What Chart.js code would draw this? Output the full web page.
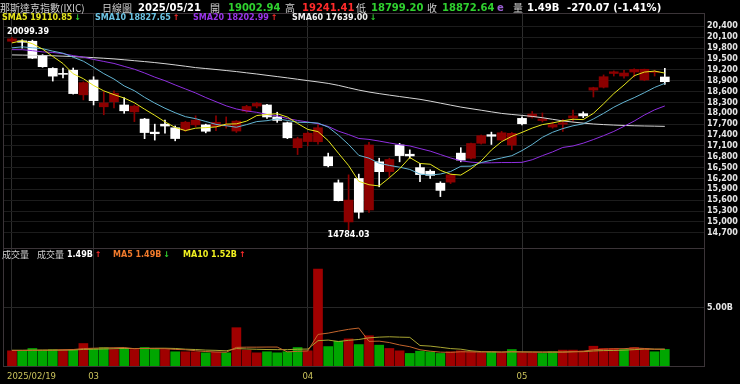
<!DOCTYPE html>
<html>
<head>
<meta charset="utf-8">
<script src="https://cdn.jsdelivr.net/npm/chart.js@4.4.1/dist/chart.umd.min.js"></script>
<style>
html, body { margin: 0; padding: 0; background: #000; }
#wrap { position: relative; width: 740px; height: 384px; overflow: hidden; background: #000; }
canvas { position: absolute; left: 0; top: 0; }
.t { position: absolute; white-space: nowrap; line-height: 12px; font-family: "DejaVu Sans", sans-serif; font-weight: bold; font-size: 10px; }
.cjk { font-family: "Noto Sans CJK TC", sans-serif; font-weight: normal; color: #cfcfcf; }
</style>
</head>
<body>
<div id="wrap"><canvas id="kchart" width="740" height="384"></canvas></div>
<script>
var days = ["2025/02/19","2025/02/20","2025/02/21","2025/02/24","2025/02/25","2025/02/26","2025/02/27","2025/02/28",
  "2025/03/03","2025/03/04","2025/03/05","2025/03/06","2025/03/07","2025/03/10","2025/03/11","2025/03/12","2025/03/13","2025/03/14",
  "2025/03/17","2025/03/18","2025/03/19","2025/03/20","2025/03/21","2025/03/24","2025/03/25","2025/03/26","2025/03/27","2025/03/28","2025/03/31",
  "2025/04/01","2025/04/02","2025/04/03","2025/04/04","2025/04/07","2025/04/08","2025/04/09","2025/04/10","2025/04/11","2025/04/14",
  "2025/04/15","2025/04/16","2025/04/17","2025/04/21","2025/04/22","2025/04/23","2025/04/24","2025/04/25","2025/04/28","2025/04/29","2025/04/30",
  "2025/05/01","2025/05/02","2025/05/05","2025/05/06","2025/05/07","2025/05/08","2025/05/09","2025/05/12","2025/05/13","2025/05/14",
  "2025/05/15","2025/05/16","2025/05/19","2025/05/20","2025/05/21"];

var open = [19990, 20000, 19990, 19590, 19240, 19100, 19190, 18510, 18920, 18180, 18320, 18230, 18040, 17840, 17480, 17700,
  17600, 17540, 17680, 17680, 17630, 17650, 17510, 18060, 18200, 18230, 17900, 17740, 17050, 17220, 17215, 16800, 16080,
  15000, 16200, 15330, 16660, 16390, 17125, 16870, 16500, 16400, 16070, 16100, 16900, 16760, 17172, 17410, 17262, 17123,
  17860, 17900, 17800, 17620, 17700, 17870, 17990, 18640, 18720, 19100, 19030, 19140, 18920, 19130, 19002.94];
var high = [20099.39, 20030, 20020, 19620, 19260, 19250, 19250, 18870, 19010, 18600, 18620, 18430, 18230, 17860, 17700, 17815,
  17650, 17780, 17930, 17700, 17930, 17900, 17800, 18220, 18300, 18250, 18030, 17760, 17340, 17480, 17700, 16900, 16160,
  16300, 16320, 17200, 16760, 16760, 17170, 16990, 16620, 16440, 16110, 16330, 17050, 17180, 17400, 17480, 17500, 17470,
  17900, 18050, 18010, 17760, 17830, 18090, 18040, 18720, 19060, 19170, 19190, 19230, 19220, 19190, 19241.41];
var low = [19950, 19800, 19510, 19270, 18890, 18980, 18530, 18370, 18230, 17960, 18150, 18000, 17770, 17300, 17260, 17450,
  17240, 17500, 17630, 17460, 17520, 17590, 17470, 18030, 18150, 17860, 17750, 17300, 16860, 17100, 17150, 16520, 15580,
  14784.03, 15100, 15260, 15970, 16230, 16660, 16760, 16110, 16200, 15700, 16060, 16660, 16740, 17150, 17140, 17250, 16990,
  17680, 17870, 17760, 17590, 17500, 17780, 17880, 18450, 18700, 19030, 18970, 19000, 18900, 19030, 18799.20];
var close = [20056.25, 19962.36, 19524.01, 19286.93, 19026.39, 19075.26, 18544.42, 18847.28, 18350.19, 18285.16, 18552.73,
  18069.26, 18196.22, 17468.32, 17436.10, 17648.45, 17303.01, 17754.09, 17808.66, 17504.12, 17750.79, 17691.63, 17784.05,
  18188.59, 18271.86, 17899.01, 17804.03, 17322.99, 17299.29, 17449.89, 17601.05, 16550.61, 15587.79, 15603.26, 15267.91,
  17124.97, 16387.31, 16724.46, 16831.48, 16823.17, 16307.16, 16286.45, 15870.90, 16300.42, 16708.05, 17166.04, 17382.94,
  17366.13, 17461.32, 17446.34, 17710.74, 17977.73, 17844.24, 17689.66, 17738.16, 17928.14, 17928.92, 18708.34, 19010.09,
  19146.81, 19112.32, 19211.10, 19215.46, 19142.71, 18872.64];
var prevClose = 20041.26;

var sma5 = [19944, 20006, 19922, 19774, 19571, 19375, 19091, 18956, 18768, 18620, 18516, 18421, 18291, 18114, 17944, 17763,
  17610, 17522, 17590, 17604, 17624, 17702, 17708, 17784, 17938, 17967, 17990, 17897, 17719, 17555, 17495, 17245, 16898,
  16559, 16122, 16027, 15994, 16221, 16467, 16778, 16614, 16594, 16424, 16317, 16294, 16466, 16686, 16985, 17217, 17364,
  17473, 17592, 17688, 17734, 17792, 17836, 17826, 17999, 18263, 18544, 18781, 19038, 19139, 19166, 19110.85];
var sma10 = [19808, 19835, 19809, 19785, 19716, 19660, 19549, 19439, 19271, 19096, 18946, 18756, 18624, 18441, 18282, 18140,
  18016, 17907, 17852, 17774, 17694, 17656, 17615, 17687, 17771, 17796, 17846, 17803, 17752, 17747, 17731, 17618, 17398,
  17139, 16839, 16761, 16620, 16560, 16513, 16450, 16321, 16294, 16323, 16392, 16536, 16540, 16640, 16705, 16767, 16829,
  16970, 17139, 17337, 17476, 17578, 17655, 17709, 17844, 17999, 18168, 18309, 18432, 18569, 18715, 18827.65];
var sma20 = [19758, 19756, 19730, 19696, 19680, 19648, 19593, 19551, 19487, 19432, 19377, 19296, 19217, 19113, 18999, 18900,
  18783, 18673, 18562, 18435, 18320, 18206, 18120, 18064, 18027, 17968, 17931, 17855, 17802, 17761, 17713, 17637, 17507,
  17413, 17305, 17279, 17233, 17182, 17133, 17099, 17026, 16956, 16861, 16766, 16688, 16651, 16630, 16633, 16640, 16640,
  16646, 16717, 16830, 16934, 17057, 17098, 17175, 17275, 17383, 17499, 17640, 17786, 17953, 18096, 18202.99];
var sma60 = [19612, 19608, 19603, 19596, 19588, 19578, 19566, 19552, 19538, 19521, 19502, 19478, 19453, 19428, 19401, 19370,
  19336, 19300, 19262, 19236, 19210, 19181, 19152, 19118, 19085, 19049, 19014, 18978, 18940, 18902, 18866, 18826, 18772,
  18706, 18641, 18588, 18543, 18502, 18463, 18425, 18386, 18336, 18281, 18226, 18172, 18128, 18085, 18040, 17997, 17968,
  17943, 17914, 17878, 17834, 17790, 17758, 17729, 17705, 17688, 17675, 17664, 17656, 17650, 17645, 17639.00];

// volume in billions
var vol = [1.37, 1.37, 1.57, 1.43, 1.48, 1.43, 1.48, 1.99, 1.57, 1.65, 1.48, 1.57, 1.48, 1.65, 1.57, 1.48, 1.29, 1.29, 1.29,
  1.20, 1.26, 1.20, 3.33, 1.43, 1.20, 1.29, 1.20, 1.29, 1.65, 1.37, 8.29, 1.73, 2.18, 2.38, 1.90, 2.65, 1.85, 1.57, 1.37,
  1.15, 1.34, 1.29, 1.15, 1.29, 1.37, 1.29, 1.20, 1.29, 1.20, 1.48, 1.20, 1.20, 1.15, 1.29, 1.43, 1.43, 1.37, 1.76, 1.57,
  1.57, 1.48, 1.65, 1.57, 1.29, 1.49];
var volMa5 = [1.40, 1.40, 1.42, 1.43, 1.44, 1.46, 1.48, 1.56, 1.59, 1.62, 1.63, 1.65, 1.55, 1.57, 1.55, 1.55, 1.49, 1.46,
  1.38, 1.31, 1.27, 1.25, 1.66, 1.68, 1.68, 1.69, 1.69, 1.28, 1.33, 1.36, 2.76, 2.87, 3.04, 3.19, 3.30, 2.17, 2.19, 2.07,
  1.87, 1.72, 1.46, 1.34, 1.26, 1.24, 1.29, 1.28, 1.26, 1.29, 1.27, 1.29, 1.27, 1.27, 1.25, 1.26, 1.25, 1.30, 1.33, 1.46,
  1.51, 1.54, 1.55, 1.61, 1.57, 1.51, 1.49];
var volMa10 = [1.42, 1.42, 1.42, 1.42, 1.42, 1.43, 1.44, 1.49, 1.51, 1.53, 1.55, 1.57, 1.56, 1.58, 1.59, 1.59, 1.57, 1.51,
  1.48, 1.43, 1.41, 1.37, 1.56, 1.53, 1.50, 1.48, 1.47, 1.47, 1.51, 1.52, 2.23, 2.28, 2.16, 2.26, 2.33, 2.47, 2.53, 2.56,
  2.53, 2.51, 1.82, 1.77, 1.67, 1.56, 1.51, 1.37, 1.30, 1.28, 1.26, 1.29, 1.28, 1.27, 1.27, 1.27, 1.27, 1.29, 1.30, 1.36,
  1.39, 1.40, 1.43, 1.47, 1.52, 1.51, 1.52];

var priceTicks = [20400, 20100, 19800, 19500, 19200, 18900, 18600, 18300, 18000, 17700, 17400, 17100, 16800, 16500,
  16200, 15900, 15600, 15300, 15000, 14700];
var volTicks = [5];

var RED = "#8c0000", VRED = "#a00000", VGREEN = "#00a600";
var GREEN_TXT = "#2fd12f", RED_TXT = "#ff2b2b";

var last = days.length - 1;
var idx = days.map(function (d, i) { return i; });

// first day + first day of each month
var xTicks = [];
days.forEach(function (d, i) {
  if (i === 0) xTicks.push({ i: i, label: d });
  else if (d.slice(5, 7) !== days[i - 1].slice(5, 7)) xTicks.push({ i: i, label: d.slice(5, 7) });
});

function pts(arr) {
  return idx.map(function (i) { return { x: i, y: arr[i] }; });
}

var candleColor = idx.map(function (i) { return close[i] >= open[i] ? RED : "#ffffff"; });
var volColor = idx.map(function (i) {
  var p = i === 0 ? prevClose : close[i - 1];
  return close[i] >= p ? VRED : VGREEN;
});

var wrap = document.getElementById("wrap");

function addText(x, y, text, color, size, cls) {
  var s = document.createElement("span");
  s.className = "t" + (cls ? " " + cls : "");
  s.textContent = text;
  s.style.left = x + "px";
  s.style.top = (y - 6) + "px";
  if (color) s.style.color = color;
  if (size) s.style.fontSize = size + "px";
  wrap.appendChild(s);
  return s;
}

function addLegend(x, y, text, color, arr) {
  var s = addText(x, y, text, color, 8);
  var up = arr[last] >= arr[last - 1];
  var a = document.createElement("span");
  a.textContent = up ? "\u2191" : "\u2193";
  a.style.color = up ? RED_TXT : GREEN_TXT;
  a.style.marginLeft = "2px";
  s.appendChild(a);
}

// header line
var chg = close[last] - close[last - 1];
var pct = chg / close[last - 1] * 100;
addText(0, 8, "那斯達克指數(IXIC)", null, 10, "cjk");
addText(102, 8, "日線圖", null, 10, "cjk");
addText(138, 8, days[last], "#ffffff", 10);
addText(210, 8, "開", null, 10, "cjk");
addText(228, 8, open[last].toFixed(2), GREEN_TXT, 10);
addText(285, 8, "高", null, 10, "cjk");
addText(302, 8, high[last].toFixed(2), RED_TXT, 10);
addText(356, 8, "低", null, 10, "cjk");
addText(371, 8, low[last].toFixed(2), GREEN_TXT, 10);
addText(427, 8, "收", null, 10, "cjk");
addText(442, 8, close[last].toFixed(2), GREEN_TXT, 10);
addText(497, 8, "e", "#9a5fd0", 10);
addText(513, 8, "量", null, 10, "cjk");
addText(527, 8, vol[last].toFixed(2) + "B", "#ffffff", 10);
addText(567, 8, chg.toFixed(2) + " (" + pct.toFixed(2) + "%)", "#ffffff", 10);

addLegend(2, 18, "SMA5 " + sma5[last].toFixed(2), "#e6e61c", sma5);
addLegend(95, 18, "SMA10 " + sma10[last].toFixed(2), "#6cc3e3", sma10);
addLegend(193, 18, "SMA20 " + sma20[last].toFixed(2), "#9a35ea", sma20);
addLegend(292, 18, "SMA60 " + sma60[last].toFixed(2), "#eeeeee", sma60);

addText(2, 255, "成交量", null, 9, "cjk");
addText(37, 255, "成交量", null, 9, "cjk");
addLegend(67, 255, vol[last].toFixed(2) + "B", "#ffffff", vol);
addLegend(113, 255, "MA5 " + volMa5[last].toFixed(2) + "B", "#f07a2c", volMa5);
addLegend(183, 255, "MA10 " + volMa10[last].toFixed(2) + "B", "#f0f020", volMa10);

var framePlugin = {
  id: "frame",
  afterDraw: function (chart) {
    var ctx = chart.ctx, a = chart.chartArea;
    var xs = chart.scales.x, ys = chart.scales.y, yv = chart.scales.yv;
    ctx.save();
    ctx.strokeStyle = "#3b3438";
    ctx.lineWidth = 1;
    ctx.strokeRect(Math.round(a.left) + 0.5, Math.round(a.top) + 0.5, Math.round(a.right - a.left) - 1, Math.round(a.bottom - a.top) - 1);
    ctx.beginPath();
    ctx.moveTo(a.left, Math.round(yv.top) + 0.5);
    ctx.lineTo(a.right, Math.round(yv.top) + 0.5);
    ctx.stroke();

    // highest high / lowest low labels
    var hi = 0, lo = 0;
    idx.forEach(function (i) {
      if (high[i] > high[hi]) hi = i;
      if (low[i] < low[lo]) lo = i;
    });
    ctx.font = "bold 8px 'DejaVu Sans'";
    ctx.fillStyle = "#ffffff";
    ctx.textBaseline = "middle";
    ctx.textAlign = "left";
    ctx.fillText(high[hi].toFixed(2), xs.getPixelForValue(hi) - 5, ys.getPixelForValue(high[hi]) - 5);
    ctx.textAlign = "center";
    ctx.fillText(low[lo].toFixed(2), xs.getPixelForValue(lo), ys.getPixelForValue(low[lo]) + 5);

    // date labels
    ctx.font = "8.5px 'DejaVu Sans'";
    ctx.fillStyle = "#cbc35c";
    xTicks.forEach(function (t, k) {
      var px = xs.getPixelForValue(t.i);
      ctx.textAlign = k === 0 ? "left" : "center";
      ctx.fillText(t.label, k === 0 ? px - 5 : px, 377);
    });
    ctx.restore();
  }
};

function lineSet(label, arr, color, axis) {
  return {
    type: "line", label: label, yAxisID: axis, data: pts(arr),
    borderColor: color, borderWidth: 1, pointRadius: 0, tension: 0, order: 0
  };
}

var ctx = document.getElementById("kchart").getContext("2d");
var chart = new Chart(ctx, {
  type: "bar",
  data: {
    datasets: [
      lineSet("SMA5", sma5, "#e6e61c", "y"),
      lineSet("SMA10", sma10, "#63b4d2", "y"),
      lineSet("SMA20", sma20, "#8f2fe0", "y"),
      lineSet("SMA60", sma60, "#d6d6d6", "y"),
      {
        type: "bar", label: "body", yAxisID: "y",
        data: idx.map(function (i) { return { x: i, y: [Math.min(open[i], close[i]), Math.max(open[i], close[i])] }; }),
        backgroundColor: candleColor, barThickness: 9, minBarLength: 1, grouped: false, borderWidth: 0, order: 5
      },
      {
        type: "bar", label: "wick", yAxisID: "y",
        data: idx.map(function (i) { return { x: i, y: [low[i], high[i]] }; }),
        backgroundColor: candleColor, barThickness: 1, grouped: false, borderWidth: 0, order: 6
      },
      {
        type: "bar", label: "volume", yAxisID: "yv",
        data: idx.map(function (i) { return { x: i, y: vol[i] }; }),
        backgroundColor: volColor, barThickness: 9, grouped: false, borderWidth: 0, order: 7
      },
      {
        type: "line", label: "MA5", yAxisID: "yv", data: pts(volMa5),
        borderColor: "#c4652c", borderWidth: 1, pointRadius: 0, order: 1
      },
      {
        type: "line", label: "MA10", yAxisID: "yv", data: pts(volMa10),
        borderColor: "#a9a632", borderWidth: 1, pointRadius: 0, order: 1
      }
    ]
  },
  options: {
    responsive: false,
    animation: false,
    devicePixelRatio: 1,
    layout: { padding: { top: 13, left: 3, right: 0, bottom: 0 } },
    plugins: { legend: { display: false }, tooltip: { enabled: false } },
    scales: {
      x: {
        type: "linear", min: -0.88, max: 67.94, offset: false,
        grid: { color: "#2e2e2e", drawTicks: false, offset: false },
        border: { display: false },
        ticks: { display: false },
        afterBuildTicks: function (s) { s.ticks = xTicks.map(function (t) { return { value: t.i }; }); },
        afterFit: function (s) { s.height = 17; }
      },
      y: {
        position: "right", stack: "pane", stackWeight: 235,
        min: 14280, max: 20770,
        grid: { color: "#1c1c1c", drawTicks: false },
        border: { display: false },
        ticks: { color: "#e6e6e6", padding: 2, autoSkip: false, font: { family: "DejaVu Sans", size: 8, weight: "bold" } },
        afterBuildTicks: function (s) { s.ticks = priceTicks.map(function (v) { return { value: v }; }); },
        afterFit: function (s) { s.width = 35; }
      },
      yv: {
        position: "right", stack: "pane", stackWeight: 119,
        min: 0, max: 10.08,
        grid: { color: "#262626", drawTicks: false },
        border: { display: false },
        ticks: {
          color: "#e6e6e6", padding: 2, autoSkip: false, font: { family: "DejaVu Sans", size: 8, weight: "bold" },
          callback: function (v) { return v.toFixed(2) + "B"; }
        },
        afterBuildTicks: function (s) { s.ticks = volTicks.map(function (v) { return { value: v }; }); },
        afterFit: function (s) { s.width = 35; }
      }
    }
  },
  plugins: [framePlugin]
});
</script>
</body>
</html>
